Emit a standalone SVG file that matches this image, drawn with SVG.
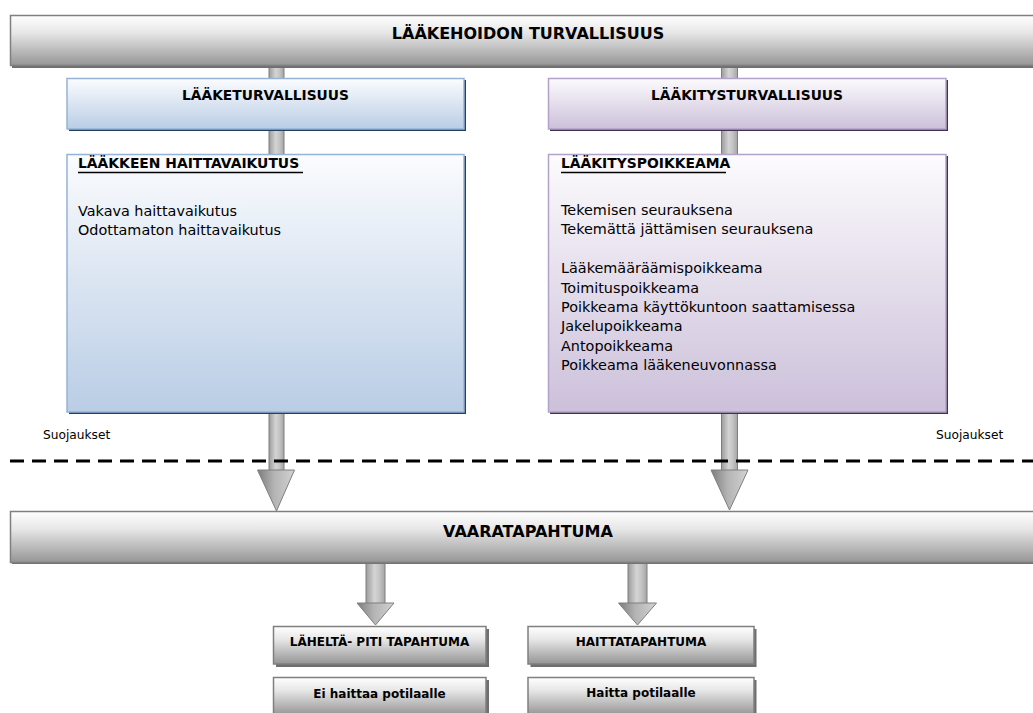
<svg xmlns="http://www.w3.org/2000/svg" width="1033" height="713" viewBox="0 0 1033 713">
  <style>
    .t { font-family: "DejaVu Sans", Verdana, sans-serif; fill: #000; }
    .b { font-weight: bold; }
    .title { font-size: 16px; font-weight: bold; }
    .head { font-size: 13.8px; font-weight: bold; }
    .body { font-size: 14.4px; }
    .small { font-size: 12px; font-weight: bold; }
    .note { font-size: 12.2px; }
    .grayBox { fill: url(#gGray); stroke: #7f7f7f; stroke-width: 1.5; }
    .grayShadow { fill: #6f6f6f; }
    .blueBox { fill: url(#gBlue); stroke: #95b3d7; stroke-width: 1.5; }
    .blueShadow { fill: #243f60; }
    .purpleBox { fill: url(#gPurple); stroke: #b2a2c7; stroke-width: 1.5; }
    .purpleShadow { fill: #3f3151; }
    .shaft { fill: url(#gShaft); stroke: #7f7f7f; stroke-width: 1; }
    .ahead { fill: url(#gHead); stroke: #7f7f7f; stroke-width: 1; }
  </style>
  <defs>
    <linearGradient id="gGray" x1="0" y1="0" x2="0" y2="1">
      <stop offset="0" stop-color="#ffffff"/>
      <stop offset="0.35" stop-color="#e6e6e6"/>
      <stop offset="1" stop-color="#959595"/>
    </linearGradient>
    <linearGradient id="gBlue" x1="0" y1="0" x2="0" y2="1">
      <stop offset="0" stop-color="#fbfcfe"/>
      <stop offset="1" stop-color="#b9cde5"/>
    </linearGradient>
    <linearGradient id="gPurple" x1="0" y1="0" x2="0" y2="1">
      <stop offset="0" stop-color="#fcfbfd"/>
      <stop offset="1" stop-color="#ccc0da"/>
    </linearGradient>
    <linearGradient id="gShaft" x1="0" y1="0" x2="1" y2="0">
      <stop offset="0" stop-color="#9c9c9c"/>
      <stop offset="0.45" stop-color="#d4d4d4"/>
      <stop offset="0.7" stop-color="#c4c4c4"/>
      <stop offset="1" stop-color="#a4a4a4"/>
    </linearGradient>
    <linearGradient id="gHead" x1="0" y1="0" x2="1" y2="0">
      <stop offset="0" stop-color="#7c7c7c"/>
      <stop offset="0.45" stop-color="#b4b4b4"/>
      <stop offset="1" stop-color="#d2d2d2"/>
    </linearGradient>
  </defs>

  <rect width="1033" height="713" fill="#ffffff"/>

  <!-- connectors: block arrows running down through the chain -->
  <g id="connectors">
    <!-- left chain: top bar -> VAARATAPAHTUMA -->
    <rect class="shaft" x="269" y="60" width="15" height="411"/>
    <polygon class="ahead" points="257.5,470 294.5,470 276.5,511"/>
    <!-- right chain: top bar -> VAARATAPAHTUMA -->
    <rect class="shaft" x="721.5" y="60" width="16" height="411"/>
    <polygon class="ahead" points="711,470 748,470 729.5,510"/>
    <!-- VAARATAPAHTUMA -> outcomes -->
    <rect class="shaft" x="366" y="560" width="19" height="44"/>
    <polygon class="ahead" points="357,603 394,603 375.5,625"/>
    <rect class="shaft" x="628" y="560" width="19" height="44"/>
    <polygon class="ahead" points="618.5,603 656.5,603 637.5,625"/>
  </g>

  <!-- top level -->
  <g id="top">
    <rect class="grayShadow" x="12" y="18" width="1023" height="50"/>
    <rect class="grayBox" x="10.5" y="15.5" width="1030" height="50"/>
    <text class="t title" x="528" y="39" text-anchor="middle">LÄÄKEHOIDON TURVALLISUUS</text>
  </g>

  <!-- drug safety column -->
  <g id="laaketurvallisuus">
    <rect class="blueShadow" x="69" y="80" width="397" height="51"/>
    <rect class="blueBox" x="67" y="78.5" width="397" height="50.5"/>
    <text class="t head" x="265.5" y="100" text-anchor="middle">LÄÄKETURVALLISUUS</text>
  </g>

  <g id="haittavaikutus">
    <rect class="blueShadow" x="69" y="156" width="397" height="258"/>
    <rect class="blueBox" x="67" y="154.5" width="397" height="257.5"/>
    <text class="t b" x="78" y="168" font-size="13.9">LÄÄKKEEN HAITTAVAIKUTUS</text>
    <line x1="78" y1="172.5" x2="303" y2="172.5" stroke="#000" stroke-width="1.4"/>
    <text class="t body" x="78" y="216">Vakava haittavaikutus</text>
    <text class="t body" x="78" y="235">Odottamaton haittavaikutus</text>
  </g>

  <!-- medication safety column -->
  <g id="laakitysturvallisuus">
    <rect class="purpleShadow" x="550" y="80" width="398" height="51"/>
    <rect class="purpleBox" x="548.5" y="78.5" width="397.5" height="50.5"/>
    <text class="t head" x="747" y="100" text-anchor="middle">LÄÄKITYSTURVALLISUUS</text>
  </g>

  <g id="laakityspoikkeama">
    <rect class="purpleShadow" x="550" y="156" width="398" height="258"/>
    <rect class="purpleBox" x="548.5" y="154.5" width="397.5" height="257.5"/>
    <text class="t b" x="561" y="168" font-size="13.9">LÄÄKITYSPOIKKEAMA</text>
    <line x1="561" y1="172.5" x2="726" y2="172.5" stroke="#000" stroke-width="1.4"/>
    <text class="t body" x="561" y="215">Tekemisen seurauksena</text>
    <text class="t body" x="561" y="234">Tekemättä jättämisen seurauksena</text>
    <text class="t body" x="561" y="273">Lääkemääräämispoikkeama</text>
    <text class="t body" x="561" y="292.5">Toimituspoikkeama</text>
    <text class="t body" x="561" y="312">Poikkeama käyttökuntoon saattamisessa</text>
    <text class="t body" x="561" y="331">Jakelupoikkeama</text>
    <text class="t body" x="561" y="350.5">Antopoikkeama</text>
    <text class="t body" x="561" y="370">Poikkeama lääkeneuvonnassa</text>
  </g>

  <!-- safeguard line -->
  <g id="suojaukset">
    <line x1="10" y1="461" x2="1033" y2="461" stroke="#000" stroke-width="3" stroke-dasharray="14 8"/>
    <text class="t note" x="43" y="439">Suojaukset</text>
    <text class="t note" x="936" y="439">Suojaukset</text>
  </g>

  <!-- adverse event -->
  <g id="vaaratapahtuma">
    <rect class="grayShadow" x="12" y="514" width="1023" height="50"/>
    <rect class="grayBox" x="10.5" y="511.5" width="1030" height="51"/>
    <text class="t title" x="528" y="537" text-anchor="middle">VAARATAPAHTUMA</text>
  </g>

  <!-- outcomes -->
  <g id="lahelta-piti">
    <rect class="grayShadow" x="276" y="629" width="213" height="38"/>
    <rect class="grayBox" x="273.5" y="626.5" width="212.5" height="37.5"/>
    <text class="t small" x="379.5" y="646" text-anchor="middle">LÄHELTÄ- PITI TAPAHTUMA</text>
  </g>

  <g id="ei-haittaa">
    <rect class="grayShadow" x="276" y="680" width="213" height="38"/>
    <rect class="grayBox" x="273.5" y="677.5" width="212.5" height="37.5"/>
    <text class="t small" x="379.5" y="698" text-anchor="middle">Ei haittaa potilaalle</text>
  </g>

  <g id="haittatapahtuma">
    <rect class="grayShadow" x="530.5" y="629" width="226" height="38"/>
    <rect class="grayBox" x="528" y="626.5" width="226" height="37.5"/>
    <text class="t small" x="641" y="646" text-anchor="middle">HAITTATAPAHTUMA</text>
  </g>

  <g id="haitta">
    <rect class="grayShadow" x="530.5" y="680" width="226" height="38"/>
    <rect class="grayBox" x="528" y="677.5" width="226" height="37.5"/>
    <text class="t small" x="641" y="697" text-anchor="middle">Haitta potilaalle</text>
  </g>
</svg>
